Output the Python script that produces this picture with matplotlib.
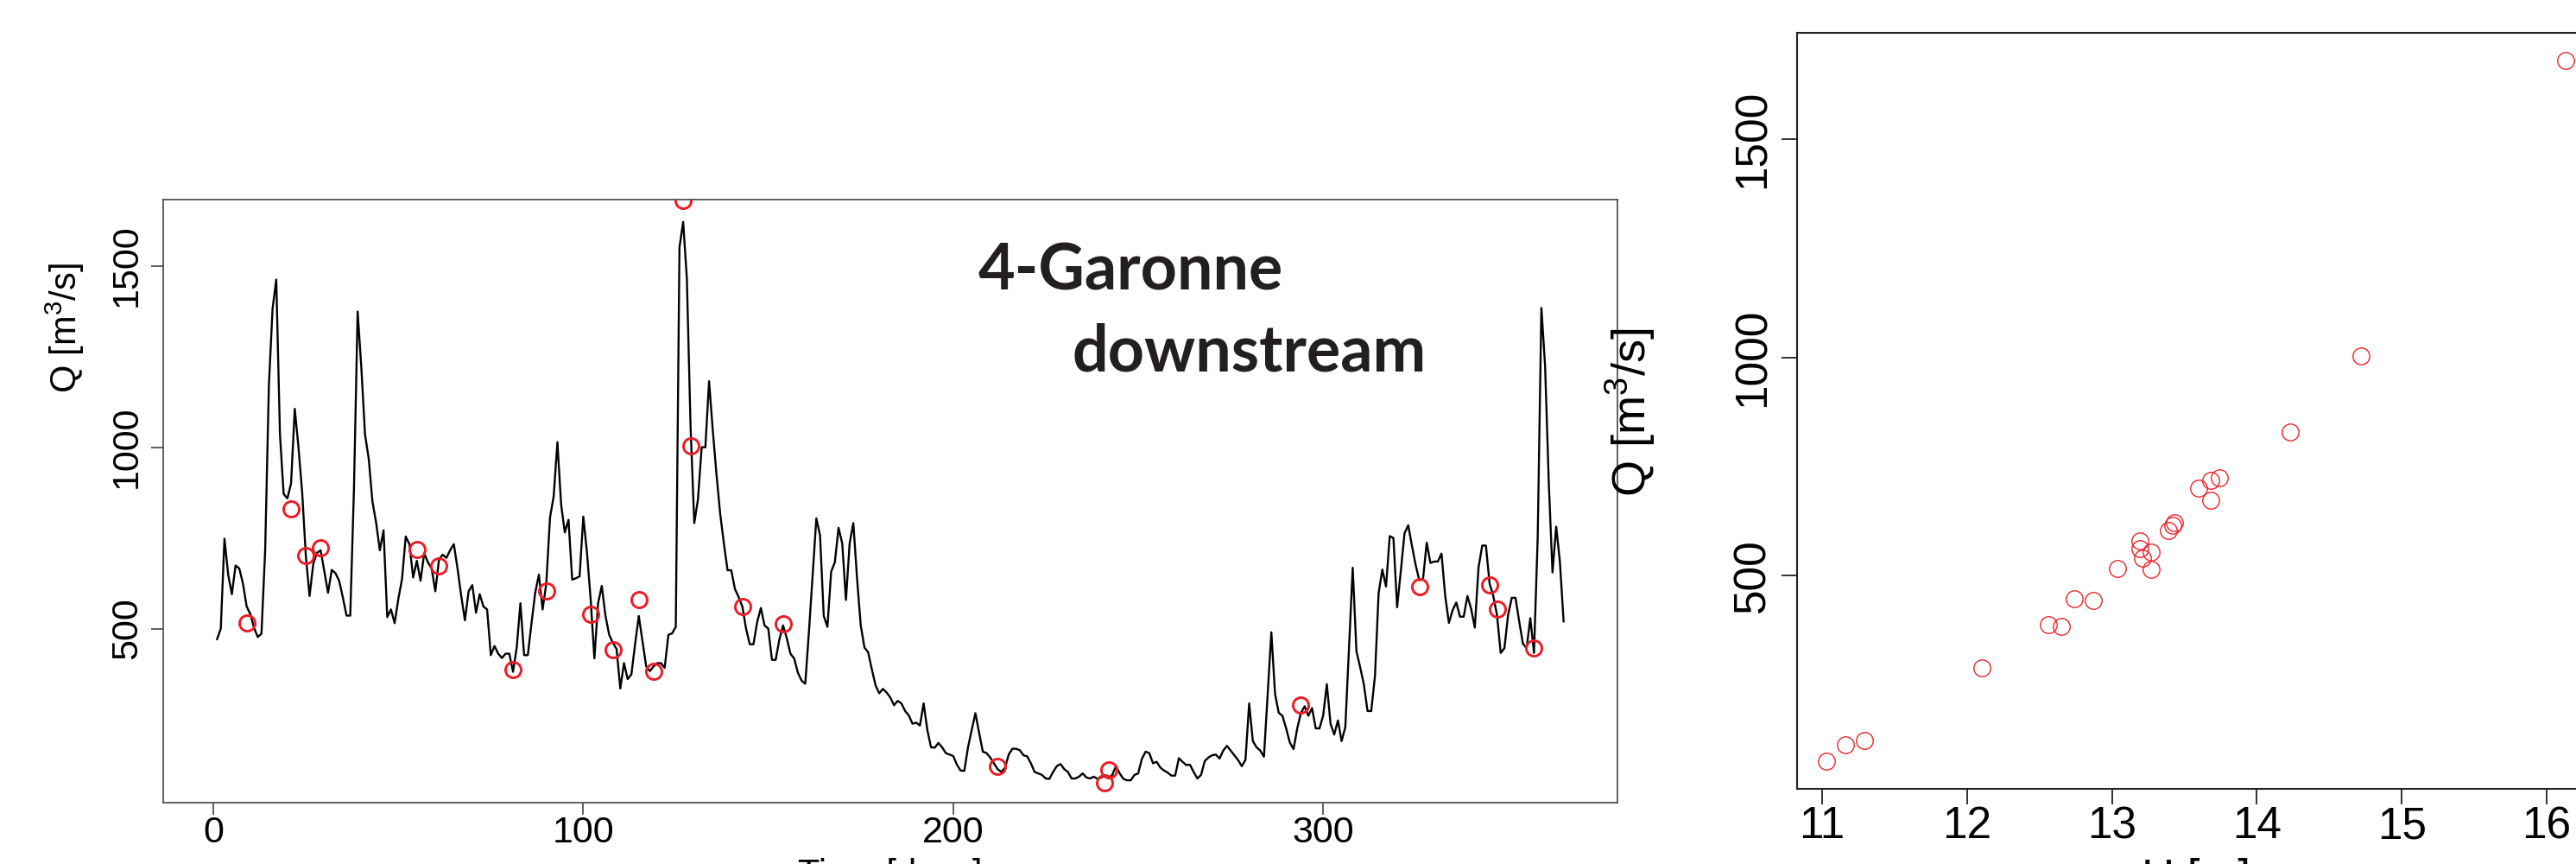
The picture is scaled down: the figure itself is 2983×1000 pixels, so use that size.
import numpy as np
import matplotlib.pyplot as plt

plt.rcParams['font.family'] = ['Liberation Sans', 'DejaVu Sans']
plt.rcParams['mathtext.default'] = 'regular'

# daily discharge, days 1..365
days = np.arange(1, 366)
q_daily = [
    471, 500, 748, 649, 595, 674, 666, 624, 561, 540,
    502, 477, 486, 716, 1169, 1382, 1462, 1035, 871, 859,
    900, 1106, 1001, 876, 700, 590, 678, 709, 716, 658,
    599, 662, 653, 632, 586, 536, 536, 884, 1374, 1219,
    1035, 968, 850, 792, 716, 771, 532, 553, 515, 582,
    637, 754, 733, 641, 687, 632, 708, 683, 666, 603,
    691, 704, 695, 716, 733, 666, 590, 523, 603, 620,
    544, 595, 561, 553, 427, 452, 431, 419, 431, 431,
    381, 448, 570, 427, 427, 515, 599, 649, 553, 625,
    806, 865, 1014, 843, 765, 800, 635, 639, 644, 809,
    709, 579, 418, 570, 618, 535, 483, 461, 444, 335,
    405, 361, 374, 457, 535, 466, 396, 383, 396, 405,
    405, 392, 483, 487, 505, 1551, 1621, 1464, 1056, 791,
    856, 1000, 1000, 1182, 1047, 926, 817, 735, 661, 661,
    609, 587, 561, 500, 457, 457, 518, 557, 509, 500,
    414, 414, 470, 509, 474, 431, 418, 379, 357, 348,
    492, 648, 804, 757, 535, 505, 657, 683, 778, 735,
    579, 735, 791, 639, 509, 448, 435, 388, 344, 322,
    334, 324, 310, 289, 301, 294, 273, 261, 238, 241,
    233, 294, 221, 173, 172, 185, 173, 157, 153, 149,
    125, 109, 108, 173, 221, 267, 213, 161, 157, 145,
    129, 113, 105, 117, 153, 169, 169, 165, 151, 148,
    129, 105, 101, 97, 87, 86, 105, 121, 127, 113,
    105, 87, 87, 92, 101, 90, 87, 92, 86, 90,
    94, 87, 97, 121, 101, 86, 82, 82, 97, 101,
    141, 161, 157, 129, 133, 117, 109, 103, 95, 95,
    143, 133, 124, 125, 105, 87, 97, 135, 145, 151,
    153, 142, 164, 177, 164, 151, 138, 121, 138, 294,
    190, 173, 164, 147, 320, 490, 320, 268, 260, 225,
    186, 168, 225, 268, 286, 260, 281, 225, 225, 260,
    347, 238, 208, 247, 190, 229, 451, 668, 438, 394,
    347, 273, 273, 368, 598, 663, 616, 755, 750, 559,
    659, 763, 785, 729, 676, 633, 637, 737, 681, 685,
    685, 707, 590, 516, 551, 572, 533, 533, 590, 555,
    503, 668, 729, 729, 624, 590, 538, 433, 446, 538,
    585, 585, 520, 459, 446, 529, 433, 750, 1384, 1224,
    902, 655, 781, 685, 520,
]

# sampled days (red circles) and their water level
sample_day = [9, 21, 25, 29, 55, 61, 81, 90, 102, 108, 115, 119,
              127, 129, 143, 154, 212, 241, 242, 294, 326, 345, 347, 357]
sample_q = [515, 829, 701, 724, 719, 673, 387, 603, 539, 442, 580, 383,
            1680, 1004, 562, 514, 121, 75, 112, 289, 616, 621, 553, 447]
sample_h = [13.04, 14.23, 13.60, 13.74, 13.68, 13.68, 12.56, 13.39, 13.21, 12.87, 13.19, 12.65,
            16.13, 14.72, 13.19, 13.27, 11.29, 11.03, 11.16, 12.10, 13.42, 13.43, 13.27, 12.74]

W, H = 2983, 1000
fig = plt.figure(figsize=(W / 100, H / 100), dpi=100)


def box(x0, y0, x1, y1):
    # pixel box (top-left origin) -> figure fraction
    return [x0 / W, 1 - y1 / H, (x1 - x0) / W, (y1 - y0) / H]


def rrange(v):
    # R style axis range, 4% each side
    lo, hi = min(v), max(v)
    d = 0.04 * (hi - lo)
    return lo - d, hi + d


# left: time series
ax1 = fig.add_axes(box(189, 231, 1873, 929))
ax1.plot(days, q_daily, color='black', lw=1.7)
ax1.plot(sample_day, sample_q, 'o', mfc='none', mec='#ee1c25', ms=13, mew=2.1)
ax1.set_xlim(rrange(days))
ax1.set_ylim(rrange(q_daily))
ax1.set_xticks([0, 100, 200, 300])
ax1.set_yticks([500, 1000, 1500])
ax1.tick_params(direction='out', length=10, width=1.1, color='#333', labelsize=31)
ax1.tick_params(axis='x', pad=1)
ax1.tick_params(axis='y', labelrotation=90, pad=6)
for lab in ax1.get_yticklabels():
    lab.set_va('center')
for s in ax1.spines.values():
    s.set_linewidth(1.2)
    s.set_color('#444')
ax1.set_xlabel('Time [days]', fontsize=30)
ax1.xaxis.set_label_coords(0.5, -0.0917)
fig.text(75 / W, 1 - 380 / H, 'Q [m$^{3}$/s]', rotation=90, ha='center', va='center', fontsize=30)

fig.text(1133 / W, 1 - 335 / H, '4-Garonne', fontfamily='Lato', fontweight='bold',
         fontsize=53, color='#231f20', ha='left', va='baseline')
fig.text(1241 / W, 1 - 430 / H, 'downstream', fontfamily='Lato', fontweight='bold',
         fontsize=53, color='#231f20', ha='left', va='baseline')

# right: Q vs H
ax2 = fig.add_axes(box(2081, 38, 3005, 913))
ax2.plot(sample_h, sample_q, 'o', mfc='none', mec='#e8262a', ms=14, mew=1.0)
ax2.set_xlim(rrange(sample_h))
ax2.set_ylim(rrange(sample_q))
ax2.set_xticks([11, 12, 13, 14, 15, 16])
ax2.set_yticks([500, 1000, 1500])
ax2.tick_params(direction='out', length=13, width=1.3, color='#222', labelsize=37)
ax2.tick_params(axis='x', pad=1)
ax2.tick_params(axis='y', labelrotation=90, pad=6)
for lab in ax2.get_yticklabels():
    lab.set_va('center')
for s in ax2.spines.values():
    s.set_linewidth(1.5)
    s.set_color('#222')
ax2.set_xlabel('H [m]', fontsize=38)
ax2.xaxis.set_label_coords(0.5, -0.0915)
fig.text(1888 / W, 1 - 477 / H, 'Q [m$^{3}$/s]', rotation=90, ha='center', va='center', fontsize=39)

fig.savefig('out.png', dpi=100)
